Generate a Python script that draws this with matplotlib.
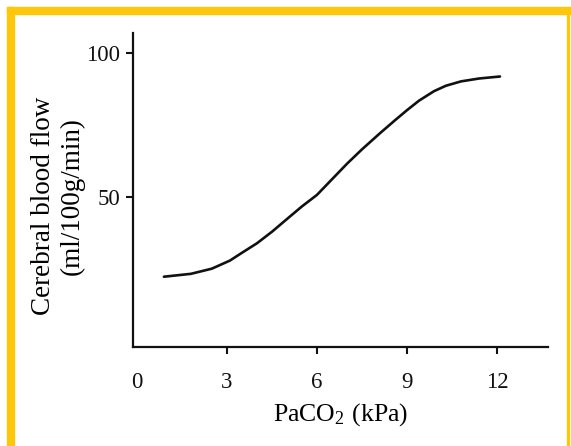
import matplotlib
matplotlib.use("Agg")
import matplotlib.pyplot as plt
from matplotlib.patches import Rectangle

# values
paco2 = [0.9, 1.8, 2.5, 3.1, 3.5, 4.0, 4.5, 5.1, 5.5, 6.0, 6.5, 7.0, 7.5, 8.1,
         8.6, 9.0, 9.4, 9.9, 10.3, 10.8, 11.4, 12.1]
cbf = [22.2, 23.2, 25.0, 27.8, 30.5, 33.8, 37.8, 43.1, 46.6, 50.6, 56.0, 61.4, 66.4, 72.0,
       76.5, 80.0, 83.3, 86.6, 88.5, 90.0, 91.0, 91.7]
xticks = [0, 3, 6, 9, 12]
yticks = [50, 100]

plt.rcParams['font.family'] = ['Liberation Serif', 'DejaVu Serif']
plt.rcParams['mathtext.fontset'] = 'stix'

fig = plt.figure(figsize=(5.71, 4.46), dpi=100)

# yellow frame
gold = '#FDC70C'
fig.patches.append(Rectangle((7/571, 1 - 14/446), 564/571, 7/446, transform=fig.transFigure,
                             color=gold, zorder=0))
fig.patches.append(Rectangle((7/571, 0), 7/571, 1 - 7/446, transform=fig.transFigure,
                             color=gold, zorder=0))
fig.patches.append(Rectangle((567/571, 0), 2/571, 1 - 7/446, transform=fig.transFigure,
                             color=gold, zorder=0))

ax = fig.add_axes([133/571, 1 - 347/446, 415/571, 314/446])
ax.plot(paco2, cbf, color='#111111', lw=1.9, solid_capstyle='round', solid_joinstyle='round')

ax.set_xlim(-0.13, 13.7)
ax.set_ylim(-2.2, 106.8)
ax.set_xticks(xticks)
ax.set_yticks(yticks)
ax.tick_params(direction='out', length=5, width=1.5, labelsize=16.5, colors='#111111')
ax.tick_params(axis='x', pad=13)
ax.tick_params(axis='y', pad=4)
ax.xaxis.get_major_ticks()[0].tick1line.set_visible(False)

for s in ['top', 'right']:
    ax.spines[s].set_visible(False)
for s in ['left', 'bottom']:
    ax.spines[s].set_linewidth(1.6)
    ax.spines[s].set_color('#111111')

ax.set_xlabel(r'PaCO$_\mathregular{2}$ (kPa)', fontsize=18.5, labelpad=6)

fig.text(44/571, 1 - 206/446, 'Cerebral blood flow', rotation=90, fontsize=19.5,
         ha='center', va='center')
fig.text(72/571, 1 - 196/446, '(ml/100g/min)', rotation=90, fontsize=19.5,
         ha='center', va='center')

fig.savefig('out.png', dpi=100)
